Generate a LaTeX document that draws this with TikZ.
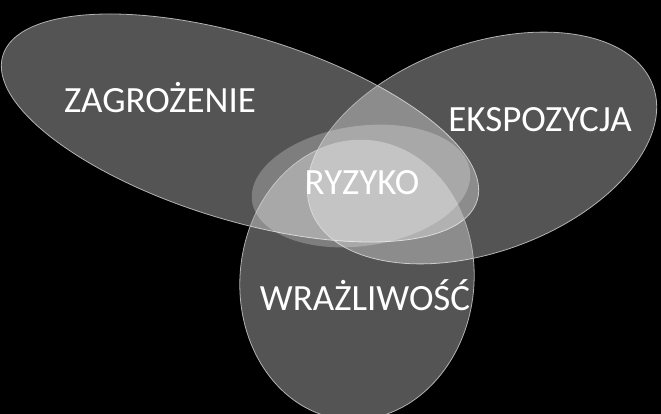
\documentclass[tikz,border=0pt]{standalone}
\usepackage{fontspec}
\setmainfont{Carlito}
\begin{document}
\begin{tikzpicture}[x=1pt,y=-1pt,
  blob/.style={fill=white,fill opacity=0.33,draw=white!70!black,line width=0.8pt},
  lbl/.style={text=white,font=\fontsize{37}{40}\selectfont}]
\fill[black] (0,0) rectangle (661,414);
\useasboundingbox (0,0) rectangle (661,414);
\path[blob] (240,128) ellipse[x radius=248,y radius=92,rotate=-17];
\path[blob] (482,148) ellipse[x radius=182,y radius=104,rotate=20];
\path[blob] (357,280) ellipse[x radius=117,y radius=140,rotate=-5];
\path[fill=white,fill opacity=0.25] (361,186) ellipse[x radius=110,y radius=60,rotate=8];
\node[lbl] (z) at (160,98) {ZAGROŻENIE};
\node[lbl] (e) at (540,120) {EKSPOZYCJA};
\node[lbl] (r) at (362,183) {RYZYKO};
\node[lbl] (w) at (365,295) {WRAŻLIWOŚĆ};
\end{tikzpicture}
\end{document}
